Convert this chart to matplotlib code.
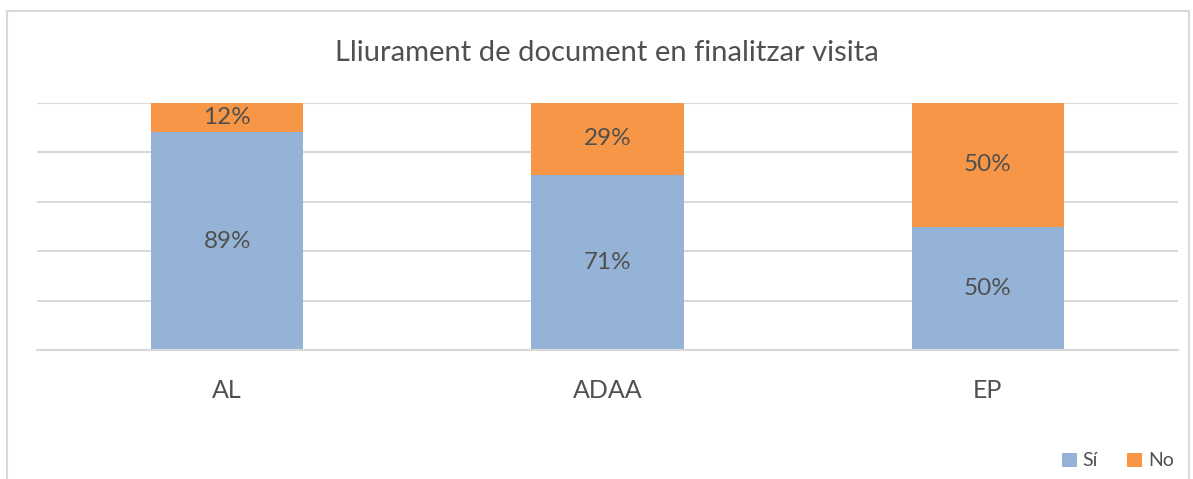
import matplotlib
matplotlib.use("Agg")
import matplotlib.pyplot as plt
from matplotlib.patches import Rectangle
import numpy as np

categories = ["AL", "ADAA", "EP"]
si_values = [89, 71, 50]
no_values = [12, 29, 50]
series_names = ["Sí", "No"]
title = "Lliurament de document en finalitzar visita"

BLUE = "#95B3D7"
ORANGE = "#F79646"
TEXT = "#505050"
GRID = "#D9D9D9"

plt.rcParams['font.family'] = ['Lato', 'DejaVu Sans']

W, H = 1193, 479
fig = plt.figure(figsize=(W/100, H/100), dpi=100)

# chart border
fig.patches.append(Rectangle((7/W, -0.05), (1189-7)/W, 1 - 11/H + 0.05, transform=fig.transFigure,
                             fill=False, edgecolor=GRID, linewidth=1.5))

ax = fig.add_axes([37/W, 1-350/H, (1178-37)/W, (350-103)/H])
si = np.array(si_values, float)
no = np.array(no_values, float)
tot = si + no
si_n = si / tot
no_n = no / tot
x = np.arange(len(categories))
b1 = ax.bar(x, si_n, width=0.4, color=BLUE, label=series_names[0], zorder=2)
b2 = ax.bar(x, no_n, width=0.4, bottom=si_n, color=ORANGE, label=series_names[1], zorder=2)

for i in range(len(categories)):
    ax.text(x[i], si_n[i]/2, f"{si_values[i]}%", ha="center", va="center", fontsize=17.5, color=TEXT, zorder=3)
    ax.text(x[i], si_n[i] + no_n[i]/2, f"{no_values[i]}%", ha="center", va="center", fontsize=17.5, color=TEXT, zorder=3)

ax.set_xlim(-0.5, 2.5)
ax.set_ylim(0, 1)
ax.set_yticks(np.linspace(0, 1, 6))
ax.set_yticklabels([])
ax.tick_params(axis="y", length=0)
ax.tick_params(axis="x", length=0, labelsize=18, labelcolor=TEXT, pad=21)
ax.set_xticks(x)
ax.set_xticklabels(categories)
ax.grid(axis="y", color=GRID, linewidth=1.5, zorder=0)
for s in ["top", "right", "left"]:
    ax.spines[s].set_visible(False)
ax.spines["bottom"].set_color(GRID)
ax.spines["bottom"].set_linewidth(1.5)

fig.text((330+884)/2/W, 1-53/H, title, ha="center", va="center", fontsize=21, color=TEXT)

fig.legend(handles=[b1, b2], labels=series_names, loc="center", bbox_to_anchor=(1118/W, 1-461/H),
           ncol=2, frameon=False, fontsize=14, handlelength=0.75, handleheight=0.75, handletextpad=0.3,
           columnspacing=1.5, labelcolor=TEXT)

fig.savefig("out.png", dpi=100)
